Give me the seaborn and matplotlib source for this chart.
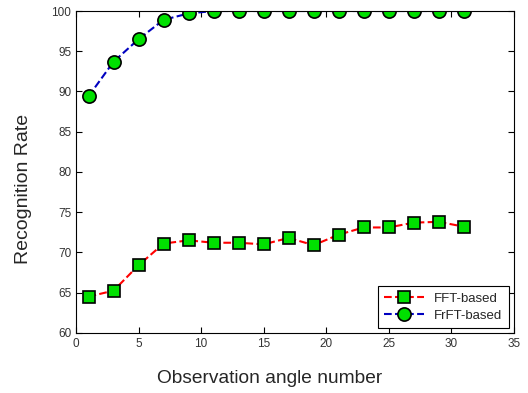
import pandas as pd
import matplotlib
matplotlib.use("Agg")
import matplotlib.pyplot as plt
import seaborn as sns

# data
angles = [1, 3, 5, 7, 9, 11, 13, 15, 17, 19, 21, 23, 25, 27, 29, 31]
fft_rate = [64.5, 65.25, 68.4, 71.1, 71.5, 71.2, 71.2, 71.0, 71.8, 70.9,
            72.2, 73.1, 73.1, 73.7, 73.8, 73.2]
frft_rate = [89.4, 93.7, 96.5, 98.9, 99.7, 100, 100, 100, 100, 100,
             100, 100, 100, 100, 100, 100]

sns.set_style("white")
plt.rcParams['font.family'] = ['Liberation Sans', 'DejaVu Sans']
plt.rcParams['xtick.direction'] = 'in'
plt.rcParams['ytick.direction'] = 'in'

fig = plt.figure(figsize=(5.28, 3.93), dpi=100)
ax = fig.add_axes([0.144, 0.153, 0.829, 0.819])

common = dict(linestyle='--', dashes=(6, 3), marker=None, markersize=9,
              markerfacecolor='#00e000', markeredgecolor='black',
              markeredgewidth=1.2, linewidth=1.5)
sns.lineplot(x=angles, y=fft_rate, ax=ax, color='red', label='FFT-based',
             **{**common, 'marker': 's'})
sns.lineplot(x=angles, y=frft_rate, ax=ax, color='#0000c0', label='FrFT-based',
             **{**common, 'marker': 'o', 'markersize': 9.5})

ax.set_xlim(0, 35)
ax.set_ylim(60, 100)
ax.set_xticks(range(0, 36, 5))
ax.set_yticks(range(60, 101, 5))
ax.tick_params(labelsize=8.5, length=4, width=0.8, top=True, right=True,
               bottom=True, left=True, colors='black', labelcolor='#333333')
for s in ax.spines.values():
    s.set_color('black')
    s.set_linewidth(0.8)

# labels are centred on the figure, MATLAB style
ax.set_xlabel("Observation angle number", fontsize=13.8)
ax.set_ylabel("Recognition Rate", fontsize=14)
ax.xaxis.set_label_coords(0.511, 0.058, transform=fig.transFigure)
ax.yaxis.set_label_coords(0.061, 0.519, transform=fig.transFigure)

leg = ax.legend(loc='lower right', fontsize=9.5, fancybox=False,
                edgecolor='black', framealpha=1, borderaxespad=0.35,
                handlelength=3, labelspacing=0.35, borderpad=0.5)
leg.get_frame().set_linewidth(0.8)

fig.savefig("out.png", dpi=100)
